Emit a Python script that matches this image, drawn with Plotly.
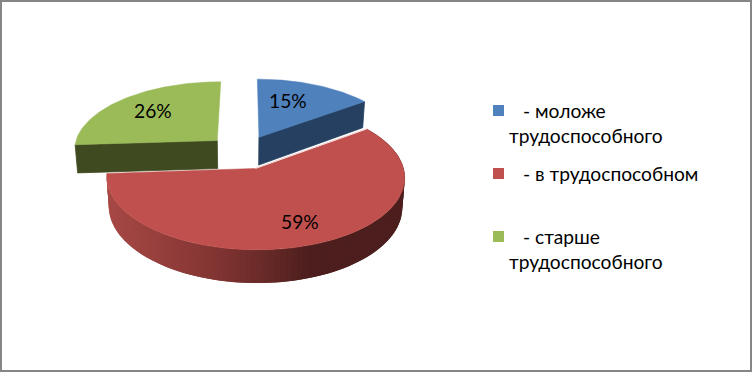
import numpy as np
import plotly.graph_objects as go

# Data
categories = ["- моложе трудоспособного", "- в трудоспособном", "- старше трудоспособного"]
values = [15, 59, 26]
value_labels = ["15%", "59%", "26%"]
legend_lines = [["- моложе", "трудоспособного"], ["- в трудоспособном"], ["- старше", "трудоспособного"]]

# Style
top_colors = ["#4F81BD", "#C0504D", "#9BBB59"]
cut_colors = ["#254061", "#632523", "#3F4A20"]
FONT = "Lato"
FS = 19.2

# Pie geometry (pixels)
CX, CY, R, TILT, PERSP, EXPLODE, DEPTH, NARROW = 243, 152, 144, 0.472, 0.115, 0.25, 28.5, 0.985


def project(wx, wy, bottom=False):
    wx, wy = np.asarray(wx, float), np.asarray(wy, float)
    s = 1 / (1 + PERSP * wy)
    f = NARROW if bottom else 1.0
    x = CX + R * wx * s * f
    y = CY - R * TILT * wy * s + (DEPTH * s if bottom else 0)
    return x, y


def slice_world(a0, a1, step=1.0):
    th = np.radians(np.arange(a0, a1 + step / 2, step))
    mid = np.radians((a0 + a1) / 2)
    ex, ey = EXPLODE * np.sin(mid), EXPLODE * np.cos(mid)
    return th, ex, ey


fracs = np.array(values, float) / sum(values) * 360
starts = np.concatenate([[0], np.cumsum(fracs)[:-1]])
ends = starts + fracs

fig = go.Figure()


def poly(x, y, color, line_color=None, width=0.8):
    fig.add_trace(go.Scatter(
        x=list(x) + [x[0]], y=list(y) + [y[0]], mode="lines", fill="toself", fillcolor=color,
        line=dict(color=line_color or color, width=width), hoverinfo="skip", showlegend=False))


def red_side_color(x):
    stops_x = [105, 160, 220, 280, 310, 405]
    stops_c = [(0xA8, 0x49, 0x46), (0x96, 0x3F, 0x3C), (0x80, 0x34, 0x32), (0x60, 0x27, 0x25), (0x4C, 0x1E, 0x1D), (0x4C, 0x1E, 0x1D)]
    c = [int(np.interp(x, stops_x, [s[i] for s in stops_c])) for i in range(3)]
    return "rgb(%d,%d,%d)" % tuple(c)


# draw order: green, blue, then red
for idx in [2, 0, 1]:
    a0, a1 = starts[idx], ends[idx]
    th, ex, ey = slice_world(a0, a1)
    wx, wy = ex + np.sin(th), ey + np.cos(th)
    tx, ty = project(wx, wy)
    bx, by = project(wx, wy, bottom=True)
    acx, acy = project([ex], [ey])
    abx, aby = project([ex], [ey], bottom=True)
    if idx == 1:
        # outer wall, shaded along the rim; quads overlap to hide seams
        for i in range(0, len(th) - 1, 2):
            j = min(i + 4, len(th) - 1)
            col = red_side_color((tx[i] + tx[min(i + 2, j)]) / 2)
            poly([tx[i], tx[j], bx[j], bx[i]], [ty[i], ty[j], by[j], by[i]], col, width=0)
    elif idx == 0:
        # cut face at the end of the slice
        poly([acx[0], tx[-1], bx[-1], abx[0]], [acy[0], ty[-1], by[-1], aby[0]], cut_colors[0])
    else:
        # cut face at the start of the slice
        poly([acx[0], tx[0], bx[0], abx[0]], [acy[0], ty[0], by[0], aby[0]], cut_colors[2])
    poly([acx[0]] + list(tx), [acy[0]] + list(ty), top_colors[idx], width=0.5)
    if idx == 1:
        # thin light seam where the red slice meets the blue one
        fig.add_trace(go.Scatter(x=[acx[0], tx[0]], y=[acy[0], ty[0]], mode="lines",
                                 line=dict(color="#F4E4E4", width=1), hoverinfo="skip", showlegend=False))

# Value labels
label_pos = [(288, 100), (300, 221), (153, 110)]
for t, (lx, ly) in zip(value_labels, label_pos):
    fig.add_annotation(x=lx, y=ly, text=t, showarrow=False, font=dict(family=FONT, size=FS, color="#000000"))

# Legend
swatch_y = [110.5, 173.5, 236.5]
text_y = [110, 173.5, 236]
fig.add_trace(go.Scatter(
    x=[498.5] * 3, y=swatch_y, mode="markers",
    marker=dict(symbol="square", size=11, color=top_colors, line=dict(width=0)),
    hoverinfo="skip", showlegend=False))
for lines, sy in zip(legend_lines, text_y):
    fig.add_annotation(x=523, y=sy, text=lines[0], showarrow=False, xanchor="left",
                       font=dict(family=FONT, size=FS, color="#000000"), borderpad=0, xshift=-1)
    if len(lines) > 1:
        fig.add_annotation(x=509, y=sy + 25.5, text=lines[1], showarrow=False, xanchor="left",
                           font=dict(family=FONT, size=FS, color="#000000"), borderpad=0, xshift=-1)

fig.add_shape(type="rect", x0=1, y0=1, x1=751, y1=371, line=dict(color="#868686", width=2), fillcolor="rgba(0,0,0,0)")

fig.update_layout(
    width=752, height=372, margin=dict(l=0, r=0, t=0, b=0), paper_bgcolor="#FFFFFF", plot_bgcolor="#FFFFFF",
    xaxis=dict(range=[0, 752], visible=False, fixedrange=True),
    yaxis=dict(range=[372, 0], visible=False, fixedrange=True),
)
fig.write_html("out.html", config={"displayModeBar": False},
               post_script="document.body.style.margin='0';document.body.style.overflow='hidden';")
